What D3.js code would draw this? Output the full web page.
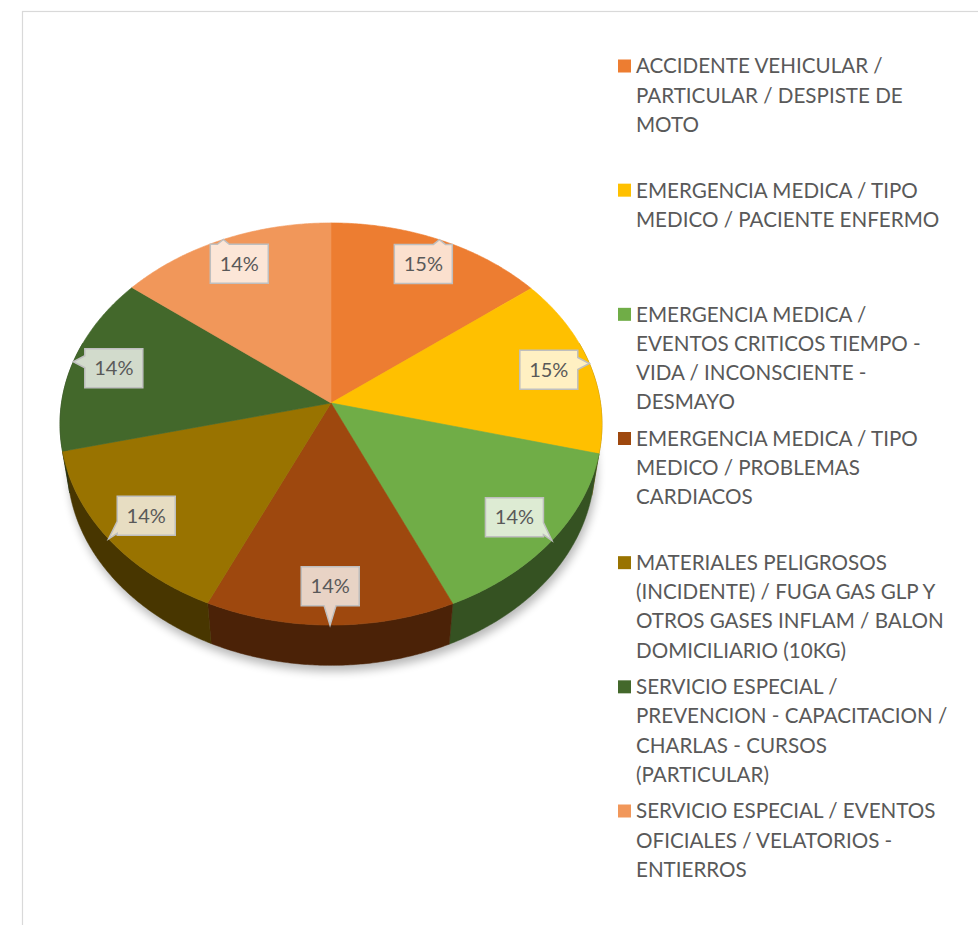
<!DOCTYPE html>
<html>
<head>
<meta charset="utf-8">
<script src="https://cdn.jsdelivr.net/npm/d3@7"></script>
<style>
  body { margin: 0; background: #fff; }
  svg { display: block; }
</style>
</head>
<body>
<div id="chart"></div>
<script>
// chart data
var categories = [
  ["ACCIDENTE VEHICULAR /", "PARTICULAR / DESPISTE DE", "MOTO"],
  ["EMERGENCIA MEDICA / TIPO", "MEDICO / PACIENTE ENFERMO"],
  ["EMERGENCIA MEDICA /", "EVENTOS CRITICOS TIEMPO -", "VIDA / INCONSCIENTE -", "DESMAYO"],
  ["EMERGENCIA MEDICA / TIPO", "MEDICO / PROBLEMAS", "CARDIACOS"],
  ["MATERIALES PELIGROSOS", "(INCIDENTE) / FUGA GAS GLP Y", "OTROS GASES INFLAM / BALON", "DOMICILIARIO (10KG)"],
  ["SERVICIO ESPECIAL /", "PREVENCION - CAPACITACION /", "CHARLAS - CURSOS", "(PARTICULAR)"],
  ["SERVICIO ESPECIAL / EVENTOS", "OFICIALES / VELATORIOS -", "ENTIERROS"]
];
var values = [145, 145, 143, 135, 144, 144, 144];
var colors = ["#ED7D31", "#FFC000", "#70AD47", "#9E480E", "#997300", "#43682B", "#F1975A"];

var svgWidth = 978;
var svgHeight = 925;

var svg = d3.select("#chart")
  .append("svg")
  .attr("width", svgWidth)
  .attr("height", svgHeight);

// chart border
svg.append("rect")
  .attr("x", 22.5)
  .attr("y", 11.5)
  .attr("width", 1000)
  .attr("height", 1000)
  .attr("fill", "#fff")
  .attr("stroke", "#d9d9d9")
  .attr("stroke-width", 1.2);

// 3d perspective setup
var cx = 331, cy = 403;
var R = 269.5;
var elev = Math.asin(0.738);
var camDist = 1741;
var depth = 64;

function project(r, a, yy) {
  var X = r * Math.sin(a);
  var Z = -r * Math.cos(a);
  var u = yy * Math.cos(elev) - Z * Math.sin(elev);
  var w = yy * Math.sin(elev) + Z * Math.cos(elev);
  var s = camDist / (camDist - w);
  return [cx + s * X, cy - s * u];
}

var total = d3.sum(values);
var pie = d3.pie().sort(null).value(function(d) { return d; });
var arcs = pie(values);

var line = d3.line();
var step = Math.PI / 360;

function rimPoints(a0, a1, yy) {
  var pts = [];
  var n = Math.max(2, Math.ceil((a1 - a0) / step));
  for (var i = 0; i <= n; i++) {
    pts.push(project(R, a0 + (a1 - a0) * i / n, yy));
  }
  return pts;
}

var defs = svg.append("defs");
defs.append("filter")
  .attr("id", "blur")
  .attr("x", "-20%").attr("y", "-20%")
  .attr("width", "140%").attr("height", "140%")
  .append("feGaussianBlur")
  .attr("stdDeviation", 5);

// soft shadow under the pie
var shadowPts = rimPoints(0, 2 * Math.PI, -depth).map(function(p) { return [p[0] + 2, p[1] + 6]; });
svg.append("path")
  .attr("d", line(shadowPts) + "Z")
  .attr("fill", "#000")
  .attr("opacity", 0.28)
  .attr("filter", "url(#blur)");

var pieGroup = svg.append("g");

// outer walls (front half only)
var wallMin = Math.PI * 0.4, wallMax = Math.PI * 1.6;
arcs.forEach(function(d, i) {
  var a0 = Math.max(d.startAngle, wallMin);
  var a1 = Math.min(d.endAngle, wallMax);
  if (a1 <= a0) return;
  var top = rimPoints(a0, a1, 0);
  var bot = rimPoints(a0, a1, -depth).reverse();
  pieGroup.append("path")
    .attr("d", line(top.concat(bot)) + "Z")
    .attr("fill", d3.color(colors[i]).darker(2.1))
    .attr("stroke", d3.color(colors[i]).darker(2.1))
    .attr("stroke-width", 0.5);
});

// top faces
arcs.forEach(function(d, i) {
  var pts = [[cx, cy]].concat(rimPoints(d.startAngle, d.endAngle, 0));
  pieGroup.append("path")
    .attr("d", line(pts) + "Z")
    .attr("fill", colors[i])
    .attr("stroke", colors[i])
    .attr("stroke-width", 0.6);
});

// data label callouts
var boxW = 58, boxH = 39;
function callout(bx, by, tx, ty) {
  var x0 = bx - boxW / 2, x1 = bx + boxW / 2, y0 = by - boxH / 2, y1 = by + boxH / 2;
  var dx = (tx - bx) / (boxW / 2), dy = (ty - by) / (boxH / 2);
  var side = "none";
  if (Math.abs(dx) > 1 || Math.abs(dy) > 1) {
    if (Math.abs(dy) >= Math.abs(dx)) side = dy < 0 ? "top" : "bottom";
    else side = dx < 0 ? "left" : "right";
  }
  var px = Math.min(Math.max(tx, x0 + 8), x1 - 8);
  var py = Math.min(Math.max(ty, y0 + 8), y1 - 8);
  var p = "M" + x0 + "," + y0;
  if (side === "top") p += "L" + (px - 6) + "," + y0 + "L" + tx + "," + ty + "L" + (px + 6) + "," + y0;
  p += "L" + x1 + "," + y0;
  if (side === "right") p += "L" + x1 + "," + (py - 6) + "L" + tx + "," + ty + "L" + x1 + "," + (py + 6);
  p += "L" + x1 + "," + y1;
  if (side === "bottom") p += "L" + (px + 6) + "," + y1 + "L" + tx + "," + ty + "L" + (px - 6) + "," + y1;
  p += "L" + x0 + "," + y1;
  if (side === "left") p += "L" + x0 + "," + (py + 6) + "L" + tx + "," + ty + "L" + x0 + "," + (py - 6);
  return p + "Z";
}

var labelGroup = svg.append("g");
arcs.forEach(function(d, i) {
  var mid = (d.startAngle + d.endAngle) / 2;
  var tip = project(R, mid, 0);
  var c = project(R * 0.84, mid, 0);
  labelGroup.append("path")
    .attr("d", callout(c[0], c[1], tip[0], tip[1]))
    .attr("fill", d3.interpolateRgb(colors[i], "#ffffff")(0.76))
    .attr("stroke", "#bfbfbf")
    .attr("stroke-width", 1.5);
  labelGroup.append("text")
    .attr("x", c[0])
    .attr("y", c[1])
    .attr("dy", "0.36em")
    .attr("text-anchor", "middle")
    .attr("font-family", "Lato, 'Open Sans', sans-serif")
    .attr("font-size", "20px")
    .attr("fill", "#595959")
    .text(Math.round(d.data * 100 / total) + "%");
});

// legend
var legendY = d3.scaleLinear().domain([0, categories.length - 1]).range([66, 811]);
var legend = svg.append("g");
categories.forEach(function(lines, i) {
  var g = legend.append("g").attr("transform", "translate(0," + legendY(i) + ")");
  g.append("rect")
    .attr("x", 618)
    .attr("y", -6.5)
    .attr("width", 13)
    .attr("height", 13)
    .attr("fill", colors[i]);
  g.selectAll("text")
    .data(lines)
    .enter()
    .append("text")
    .attr("x", 636)
    .attr("y", function(t, j) { return j * 29.2; })
    .attr("dy", "0.36em")
    .attr("font-family", "Lato, 'Open Sans', sans-serif")
    .attr("font-size", "20.6px")
    .attr("fill", "#595959")
    .text(function(t) { return t; });
});
</script>
</body>
</html>
